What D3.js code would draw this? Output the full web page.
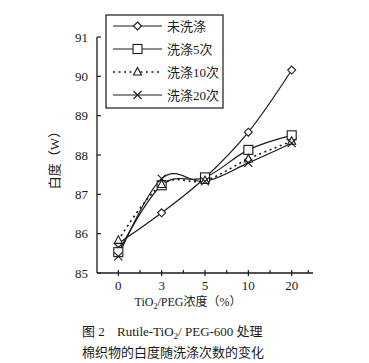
<!DOCTYPE html>
<html><head><meta charset="utf-8">
<script src="https://cdn.jsdelivr.net/npm/d3@7"></script>
<style>body{margin:0;background:#fff}svg{display:block}</style>
</head><body>
<svg id="c" width="369" height="363"></svg>
<script>
const categories = ["0","3","5","10","20"];
const yTicks = [85,86,87,88,89,90,91];
const seriesNames = ["未洗涤","洗涤5次","洗涤10次","洗涤20次"];
const unwashed = [85.75, 86.53, 87.42, 88.58, 90.16];
const wash5 = [85.53, 87.23, 87.43, 88.13, 88.50];
const wash10 = [85.83, 87.25, 87.35, 87.90, 88.35];
const wash20 = [85.42, 87.40, 87.33, 87.80, 88.30];

const series = [
  {name: seriesNames[0], values: unwashed, marker: "diamond", dash: null},
  {name: seriesNames[1], values: wash5, marker: "square", dash: null},
  {name: seriesNames[2], values: wash10, marker: "triangle", dash: "2,3.5"},
  {name: seriesNames[3], values: wash20, marker: "cross", dash: null}
];

const svg = d3.select("#c");
const serif = "'Liberation Serif','Noto Sans CJK SC',serif";
const ink = "#1a1a1a";

const x = d3.scalePoint().domain(categories).range([118.3, 291.7]);
const y = d3.scaleLinear().domain([85, 91]).range([273, 37]);
const step = x.step();

// axes lines
svg.append("line").attr("x1", 97).attr("x2", 97).attr("y1", y(91)).attr("y2", y(85)).attr("stroke", ink).attr("stroke-width", 1.3);
svg.append("line").attr("x1", 97).attr("x2", 313).attr("y1", y(85)).attr("y2", y(85)).attr("stroke", ink).attr("stroke-width", 1.3);

// y ticks
yTicks.forEach(v => {
  svg.append("line").attr("x1", 97).attr("x2", 101).attr("y1", y(v)).attr("y2", y(v)).attr("stroke", ink).attr("stroke-width", 1.2);
  svg.append("text").attr("x", 88).attr("y", y(v) + 4.5).attr("text-anchor", "end")
    .attr("font-family", serif).attr("font-size", 13).attr("fill", ink).text(v);
});

// x ticks
categories.forEach(c => {
  svg.append("line").attr("x1", x(c)).attr("x2", x(c)).attr("y1", y(85) - 3).attr("y2", y(85) + 3).attr("stroke", ink).attr("stroke-width", 1.2);
  svg.append("text").attr("x", x(c)).attr("y", 290).attr("text-anchor", "middle")
    .attr("font-family", serif).attr("font-size", 13).attr("fill", ink).text(c);
});
categories.forEach((c, i) => {
  const mx = x(c) + step / 2 - (i === categories.length - 1 ? 5 : 0);
  svg.append("line").attr("x1", mx).attr("x2", mx).attr("y1", y(85) - 3).attr("y2", y(85)).attr("stroke", ink).attr("stroke-width", 1.2);
});

// axis titles
svg.append("text").attr("transform", "translate(59,157) rotate(-90)").attr("text-anchor", "middle")
  .attr("font-family", serif).attr("font-size", 13).attr("fill", ink).text("白度（W）");
const xt = svg.append("text").attr("x", 188).attr("y", 306).attr("text-anchor", "middle")
  .attr("font-family", serif).attr("font-size", 12).attr("fill", ink);
xt.append("tspan").text("TiO");
xt.append("tspan").attr("font-size", 8).attr("dy", 3).text("2");
xt.append("tspan").attr("dy", -3).text("/PEG浓度（%）");

// caption
svg.append("text").attr("x", 82).attr("y", 336).attr("font-family", serif).attr("font-size", 13).attr("fill", ink).text("图 2");
const c1 = svg.append("text").attr("x", 117).attr("y", 336).attr("font-family", serif).attr("font-size", 13).attr("fill", ink);
c1.append("tspan").text("Rutile-TiO");
c1.append("tspan").attr("font-size", 9).attr("dy", 3).text("2");
c1.append("tspan").attr("dy", -3).text("/ PEG-600 处理");
svg.append("text").attr("x", 82).attr("y", 357).attr("font-family", serif).attr("font-size", 13).attr("fill", ink)
  .text("棉织物的白度随洗涤次数的变化");

// markers
function drawMarker(g, type, cx, cy) {
  const st = {stroke: ink, "stroke-width": 1.1, fill: "#fff"};
  let m;
  if (type === "diamond") {
    m = g.append("path").attr("d", `M${cx},${cy-4}L${cx+4},${cy}L${cx},${cy+4}L${cx-4},${cy}Z`);
  } else if (type === "square") {
    m = g.append("rect").attr("x", cx - 4.5).attr("y", cy - 4.5).attr("width", 9).attr("height", 9);
  } else if (type === "triangle") {
    m = g.append("path").attr("d", `M${cx},${cy-4.5}L${cx+4},${cy+3}L${cx-4},${cy+3}Z`);
  } else {
    m = g.append("path").attr("d", `M${cx-4},${cy-4}L${cx+4},${cy+4}M${cx-4},${cy+4}L${cx+4},${cy-4}`).attr("fill", "none");
    Object.entries(st).forEach(([k, v]) => { if (k !== "fill") m.attr(k, v); });
    return;
  }
  Object.entries(st).forEach(([k, v]) => m.attr(k, v));
}

const line = d3.line().x((d, i) => x(categories[i])).y(d => y(d)).curve(d3.curveCardinal.tension(-0.1));
series.forEach(s => {
  const p = svg.append("path").attr("d", line(s.values)).attr("fill", "none").attr("stroke", ink)
    .attr("stroke-width", s.dash ? 1.6 : 1.2);
  if (s.dash) p.attr("stroke-dasharray", s.dash);
});
series.forEach(s => {
  const g = svg.append("g");
  s.values.forEach((v, i) => drawMarker(g, s.marker, x(categories[i]), y(v)));
});

// legend
svg.append("rect").attr("x", 106).attr("y", 15).attr("width", 117).attr("height", 93)
  .attr("fill", "#fff").attr("stroke", ink).attr("stroke-width", 1.2);
series.forEach((s, i) => {
  const ry = 26 + i * 23;
  const p = svg.append("line").attr("x1", 113).attr("x2", 162).attr("y1", ry).attr("y2", ry)
    .attr("stroke", ink).attr("stroke-width", s.dash ? 1.6 : 1.2);
  if (s.dash) p.attr("stroke-dasharray", s.dash);
  const g = svg.append("g");
  drawMarker(g, s.marker, 137.5, ry);
  svg.append("text").attr("x", 167).attr("y", ry + 4.5).attr("font-family", serif).attr("font-size", 13)
    .attr("fill", ink).text(s.name);
});
</script>
</body></html>
